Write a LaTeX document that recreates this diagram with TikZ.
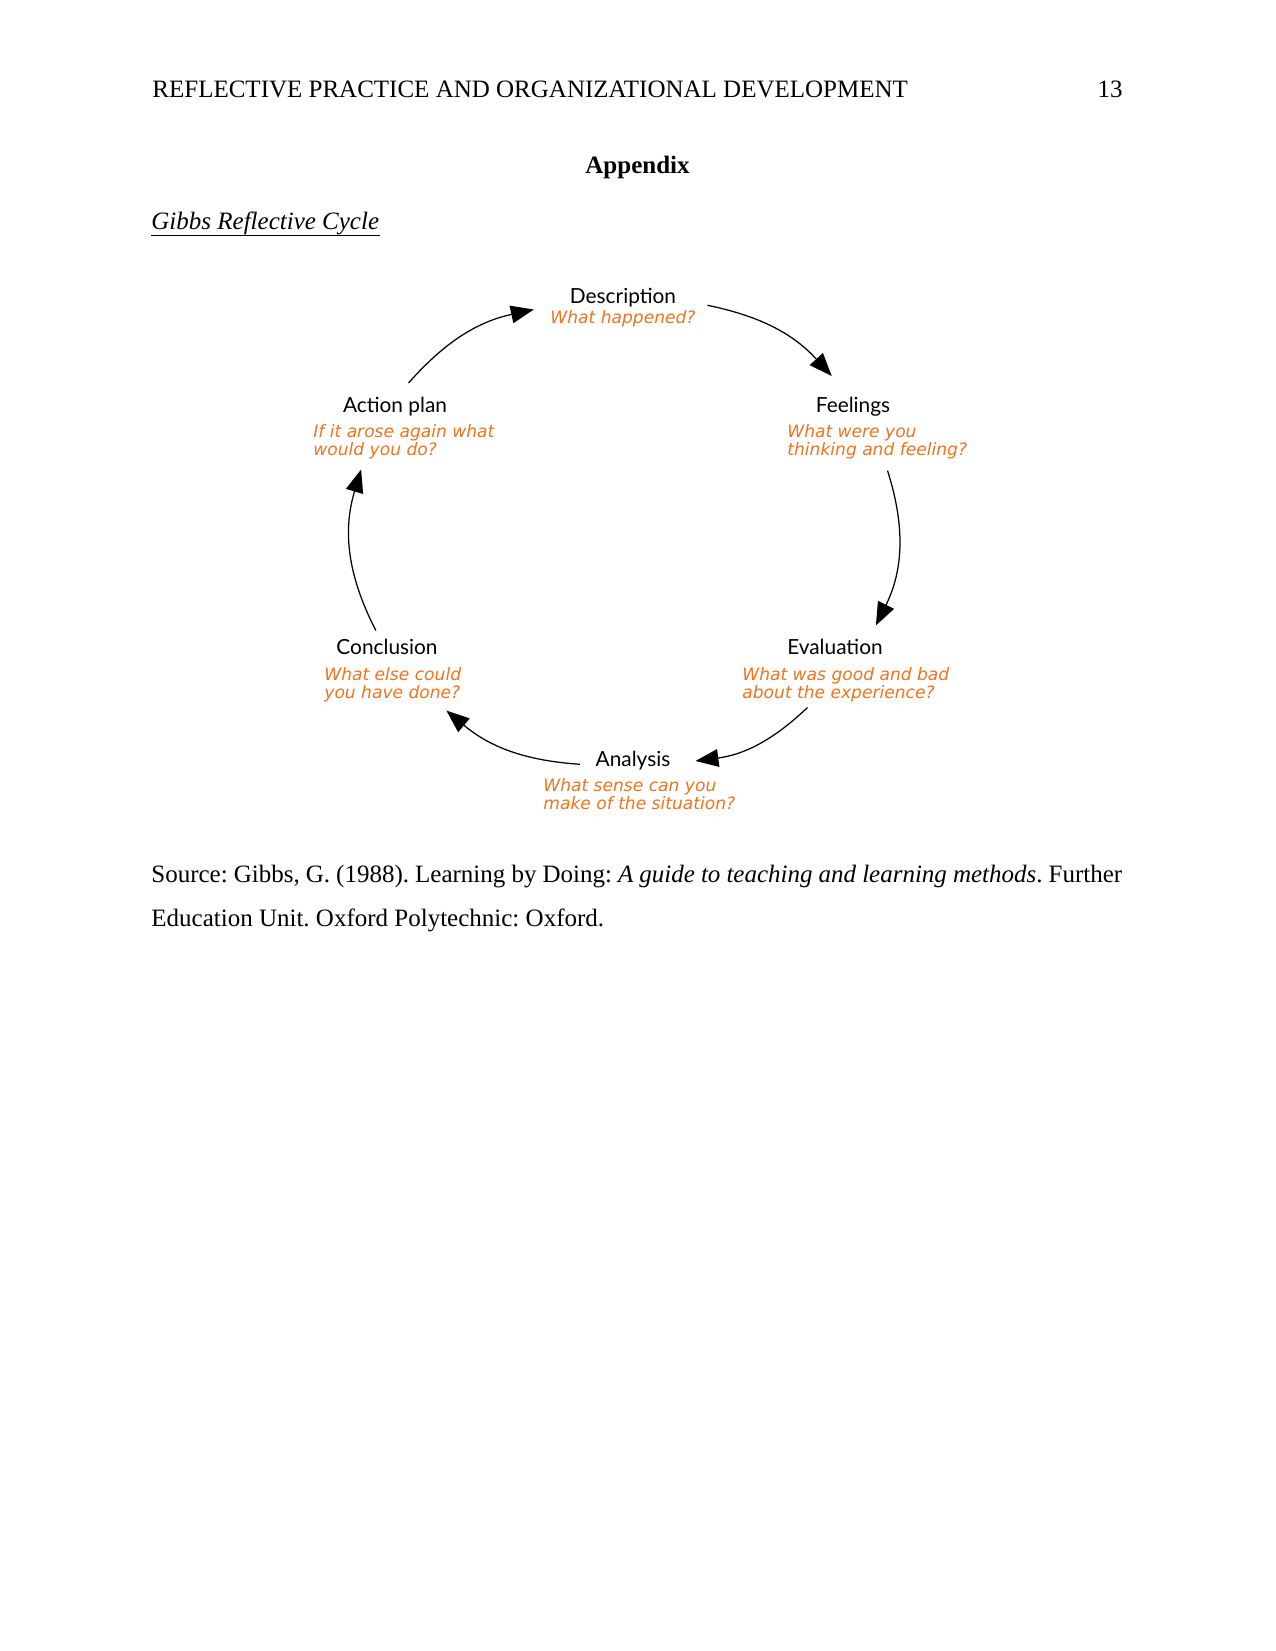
\documentclass[tikz,border=0pt]{standalone}
\usepackage{fontspec}
\setmainfont{Liberation Serif}
\newfontfamily\stagefont{Lato}
\newfontfamily\askfont{DejaVu Sans Oblique}
\usetikzlibrary{arrows.meta, positioning}
\definecolor{askorange}{RGB}{240,115,30}
\frenchspacing

\begin{document}
\begin{tikzpicture}[x=0.48pt, y=-0.48pt, >={Triangle[length=11pt,width=8.5pt]},
    page/.style={inner sep=0pt, font=\fontsize{12}{14.4}\selectfont},
    stage/.style={inner sep=0pt, anchor=base, font=\stagefont\fontsize{10}{12}\selectfont},
    ask/.style={inner sep=0pt, align=left, text=askorange, font=\askfont\fontsize{8.2}{8.64}\selectfont},
    cyc/.style={->, line width=0.6pt}]
        \useasboundingbox (0,0) rectangle (1275,1651);
        \fill[white] (0,0) rectangle (1275,1651);
        % page text
        \node[page, anchor=base west] (head) at (152,98) {REFLECTIVE PRACTICE AND ORGANIZATIONAL DEVELOPMENT};
        \node[page, anchor=base east] (pnum) at (1123,98) {13};
        \node[page, anchor=base, font=\fontsize{12}{14.4}\selectfont\bfseries] (appx) at (637.5,174) {Appendix};
        \node[page, anchor=base west, font=\fontsize{12}{14.4}\selectfont\itshape] (gibbs) at (151,230) {Gibbs Reflective Cycle};
        \draw[line width=0.6pt] ([yshift=-2.7pt]gibbs.base west) -- ([yshift=-2.7pt]gibbs.base east);
        % the cycle
        \node[stage] (desc) at (623,303) {Description};
        \node[ask, below=1.5pt of desc] (descq) {What happened?};
        \node[stage] (feel) at (853,412) {Feelings};
        \node[ask, anchor=base west] (feelq) at (787,455) {What were you\\thinking and feeling?};
        \node[stage] (eval) at (835,654) {Evaluation};
        \node[ask, anchor=base west] (evalq) at (742,698) {What was good and bad\\about the experience?};
        \node[stage] (anly) at (633,766) {Analysis};
        \node[ask, anchor=base west] (anlyq) at (543,809) {What sense can you\\make of the situation?};
        \node[stage] (conc) at (387,654) {Conclusion};
        \node[ask, anchor=base west] (concq) at (324,698) {What else could\\you have done?};
        \node[stage] (act) at (395,412) {Action plan};
        \node[ask, anchor=base west] (actq) at (313,455) {If it arose again what\\would you do?};
        % arrow ends
        \coordinate (desc-out) at (707.5,305.3);
        \coordinate (feel-in) at (831.7,376);
        \coordinate (feel-out) at (887.5,470.6);
        \coordinate (eval-in) at (875.9,625.4);
        \coordinate (eval-out) at (807.5,707.5);
        \coordinate (anly-in) at (695.5,761);
        \coordinate (anly-out) at (580,764.3);
        \coordinate (conc-in) at (446.4,710.6);
        \coordinate (conc-out) at (375.9,630.6);
        \coordinate (act-in) at (361.1,469.5);
        \coordinate (act-out) at (408.5,383);
        \coordinate (desc-in) at (533.8,309.5);
        \draw[cyc] (desc-out) to[bend left=18] (feel-in);
        \draw[cyc] (feel-out) to[bend left=22] (eval-in);
        \draw[cyc] (eval-out) to[bend left=18] (anly-in);
        \draw[cyc] (anly-out) to[bend left=18] (conc-in);
        \draw[cyc] (conc-out) to[bend left=22] (act-in);
        \draw[cyc] (act-out) to[bend left=18] (desc-in);
        % source
        \node[page, anchor=base west] (src) at (151,882) {\makebox[466pt][s]{Source: Gibbs, G. (1988). Learning by Doing: \textit{A guide to teaching and learning methods}. Further}};
        \node[page, anchor=base west] (src2) at (151,926.5) {Education Unit. Oxford Polytechnic: Oxford.};
    \end{tikzpicture}
\end{document}
